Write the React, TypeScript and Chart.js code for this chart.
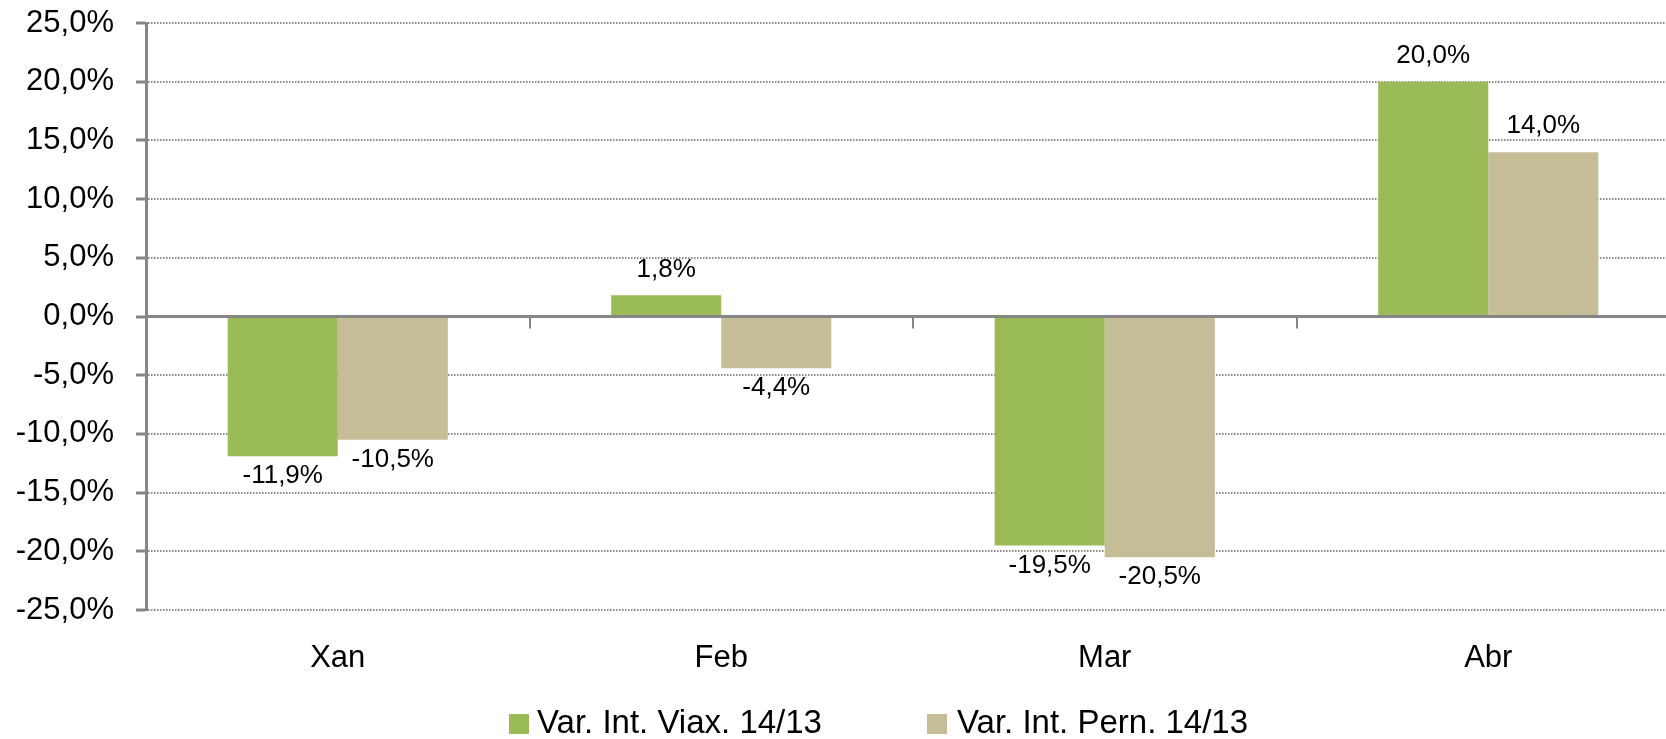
import React, { useEffect, useRef } from "react";
import { Chart, registerables } from "chart.js";

Chart.register(...registerables);

// ---- data ----
const categories = ["Xan", "Feb", "Mar", "Abr"];
const seriesNames = ["Var. Int. Viax. 14/13", "Var. Int. Pern. 14/13"];
const viaxValues = [-11.9, 1.8, -19.5, 20.0];
const pernValues = [-10.5, -4.4, -20.5, 14.0];
const yMin = -25;
const yMax = 25;
const yStep = 5;
const seriesColors = ["#9BBB59", "#C4BD97"];

const fmt = (v: number) => v.toFixed(1).replace(".", ",") + "%";

const FONT = '"Liberation Sans", Arial, sans-serif';
const CANVAS_W = 1700;
const CANVAS_H = 739;

const legendBoxX = [509, 927];
const legendTextX = [537, 957];

const decorPlugin = {
  id: "decor",
  afterDatasetsDraw(chart: any) {
    const { ctx, chartArea, scales } = chart;
    const ys = scales.y;
    const xs = scales.x;
    const y0 = ys.getPixelForValue(0);
    ctx.save();
    // zero line
    ctx.strokeStyle = "#868686";
    ctx.lineWidth = 3;
    ctx.beginPath();
    ctx.moveTo(chartArea.left, y0);
    ctx.lineTo(chartArea.right, y0);
    ctx.stroke();
    // category tick marks on zero line
    ctx.lineWidth = 2;
    for (let i = 1; i < categories.length; i++) {
      const x = Math.round((xs.getPixelForValue(i - 1) + xs.getPixelForValue(i)) / 2);
      ctx.beginPath();
      ctx.moveTo(x, y0);
      ctx.lineTo(x, y0 + 12);
      ctx.stroke();
    }
    // data labels
    ctx.fillStyle = "#000";
    ctx.font = `26px ${FONT}`;
    ctx.textAlign = "center";
    ctx.textBaseline = "middle";
    chart.data.datasets.forEach((ds: any, di: number) => {
      const meta = chart.getDatasetMeta(di);
      meta.data.forEach((el: any, i: number) => {
        const v = ds.data[i] as number;
        const y = v >= 0 ? el.y - 26 : el.y + 20;
        ctx.fillText(fmt(v), el.x, y);
      });
    });
    // legend
    ctx.font = `33px ${FONT}`;
    ctx.textAlign = "left";
    chart.data.datasets.forEach((ds: any, di: number) => {
      ctx.fillStyle = ds.backgroundColor;
      ctx.fillRect(legendBoxX[di], 714, 20, 20);
      ctx.fillStyle = "#000";
      ctx.fillText(ds.label, legendTextX[di], 724);
    });
    ctx.restore();
  },
};

export default function App() {
  const ref = useRef<HTMLCanvasElement | null>(null);

  useEffect(() => {
    if (!ref.current) return;
    const chart = new Chart(ref.current, {
      type: "bar",
      data: {
        labels: categories,
        datasets: [
          {
            label: seriesNames[0],
            data: viaxValues,
            backgroundColor: seriesColors[0],
            borderWidth: 0,
            categoryPercentage: 0.574,
            barPercentage: 1,
          },
          {
            label: seriesNames[1],
            data: pernValues,
            backgroundColor: seriesColors[1],
            borderWidth: 0,
            categoryPercentage: 0.574,
            barPercentage: 1,
          },
        ],
      },
      options: {
        animation: false,
        responsive: false,
        maintainAspectRatio: false,
        devicePixelRatio: 1,
        layout: { padding: { top: 23, bottom: 60, left: 0, right: 20 } },
        plugins: {
          legend: { display: false },
          tooltip: { enabled: false },
          title: { display: false },
        },
        scales: {
          x: {
            grid: { display: false, drawTicks: false },
            border: { display: false },
            ticks: {
              color: "#000",
              font: { family: FONT, size: 31 },
              padding: 30,
            },
            afterFit: (s: any) => {
              s.height = 69;
            },
          },
          y: {
            min: yMin,
            max: yMax,
            ticks: {
              stepSize: yStep,
              color: "#000",
              font: { family: FONT, size: 31 },
              padding: 22,
              callback: (v: any) => fmt(Number(v)),
            },
            grid: {
              color: (c: any) => (c.tick && c.tick.value === 0 ? "rgba(0,0,0,0)" : "#8a8a8a"),
              lineWidth: 2,
              drawTicks: true,
              tickLength: 10,
              tickColor: "#868686",
              tickWidth: 3,
            },
            border: { display: true, color: "#868686", width: 3, dash: [1.5, 1.5] },
            afterFit: (s: any) => {
              s.width = 146;
              s.paddingTop = 0;
              s.paddingBottom = 0;
            },
          },
        },
      },
      plugins: [decorPlugin],
    });
    return () => chart.destroy();
  }, []);

  return (
    <div
      style={{
        position: "fixed",
        left: 0,
        top: 0,
        width: 1666,
        height: 739,
        overflow: "hidden",
        background: "#fff",
      }}
    >
      <canvas
        ref={ref}
        width={CANVAS_W}
        height={CANVAS_H}
        style={{ display: "block", width: CANVAS_W, height: CANVAS_H }}
      />
    </div>
  );
}
